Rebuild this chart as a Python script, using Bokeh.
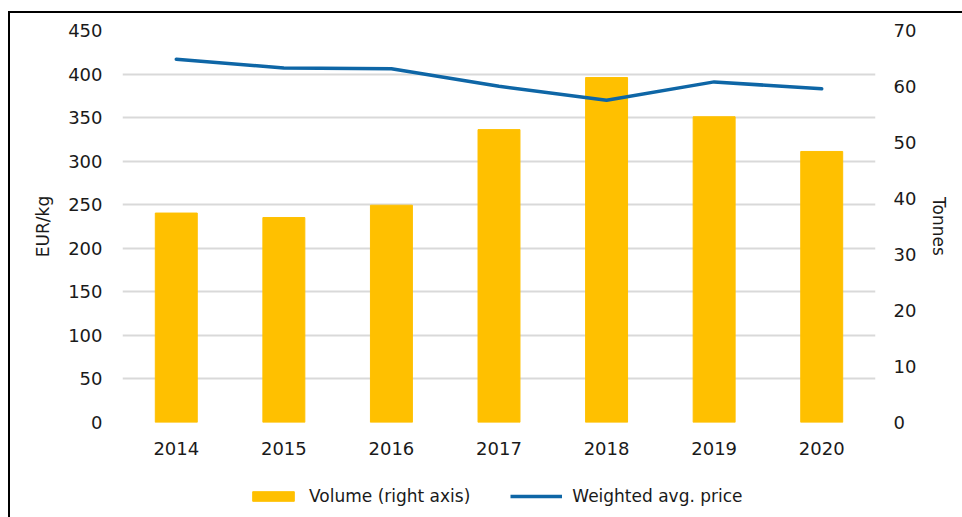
from bokeh.plotting import figure
from bokeh.layouts import column
from bokeh.models import Range1d, LinearAxis, FixedTicker, FactorRange, Legend, LegendItem
from bokeh.embed import file_html
from bokeh.resources import INLINE

years = ["2014", "2015", "2016", "2017", "2018", "2019", "2020"]
volume_tonnes = [37.4, 36.6, 38.8, 52.3, 61.6, 54.6, 48.4]
price_eur_kg = [417, 407, 406, 386, 370, 391, 383]
left_ticks = [0, 50, 100, 150, 200, 250, 300, 350, 400, 450]
right_ticks = [0, 10, 20, 30, 40, 50, 60, 70]
series_names = ["Volume (right axis)", "Weighted avg. price"]

FONT = "DejaVu Sans"
TXT = "#1a1a1a"
BAR_COLOR = "#FFC000"
LINE_COLOR = "#0E66A6"

p = figure(
    width=952, height=457,
    x_range=FactorRange(*years, range_padding=0),
    y_range=Range1d(0, 450),
    output_backend="svg", toolbar_location=None,
    min_border_left=112, min_border_right=87, min_border_top=17, min_border_bottom=48,
    outline_line_color=None,
)
p.extra_y_ranges = {"t": Range1d(0, 70)}

p.vbar(x=years, top=volume_tonnes, width=0.39, color=BAR_COLOR, y_range_name="t")
p.line(x=years, y=price_eur_kg, line_color=LINE_COLOR, line_width=3.5, line_join="round", line_cap="round")

p.xgrid.grid_line_color = None
p.ygrid.grid_line_color = "#D9D9D9"
p.ygrid.grid_line_width = 2
p.ygrid.ticker = FixedTicker(ticks=left_ticks)

ax = p.yaxis[0]
ax.ticker = FixedTicker(ticks=left_ticks)
ax.axis_label = "EUR/kg"

rax = LinearAxis(y_range_name="t", ticker=FixedTicker(ticks=right_ticks), axis_label="Tonnes")
p.add_layout(rax, "right")

for a in [ax, rax, p.xaxis[0]]:
    a.axis_line_color = None
    a.major_tick_line_color = None
    a.minor_tick_line_color = None
    a.major_label_text_font = FONT
    a.major_label_text_font_size = "18px"
    a.major_label_text_color = TXT
    a.axis_label_text_font = FONT
    a.axis_label_text_font_size = "17px"
    a.axis_label_text_font_style = "normal"
    a.axis_label_text_color = TXT

ax.major_label_standoff = 14
rax.major_label_standoff = 12
ax.axis_label_standoff = 12
rax.axis_label_standoff = 10
p.xaxis[0].major_label_standoff = 13

# legend strip below the chart (its series are drawn outside the visible range)
lg = figure(
    width=952, height=47,
    x_range=FactorRange(*years), y_range=Range1d(1000, 1001),
    output_backend="svg", toolbar_location=None,
    min_border_left=112, min_border_right=87, min_border_top=0, min_border_bottom=0,
    outline_line_color=None,
)
lg.axis.visible = False
lg.grid.visible = False
lb = lg.vbar(x=years, top=volume_tonnes, width=0.39, color=BAR_COLOR)
ll = lg.line(x=years, y=price_eur_kg, line_color=LINE_COLOR, line_width=3.5)

legend = Legend(
    items=[LegendItem(label=series_names[0], renderers=[lb]),
           LegendItem(label=series_names[1], renderers=[ll])],
    orientation="horizontal", location=(125, 11),
    glyph_width=52, glyph_height=12, spacing=40, label_standoff=10,
    label_text_font=FONT, label_text_font_size="17px", label_text_color=TXT,
    border_line_color=None, background_fill_alpha=0, padding=0, margin=0,
)
lg.add_layout(legend, "center")

layout = column(p, lg, spacing=0, styles={"border-left": "2px solid #000", "border-top": "2px solid #000",
                                          "margin-top": "11px", "margin-left": "8px"})

open("out.html", "w").write(file_html(layout, INLINE))
